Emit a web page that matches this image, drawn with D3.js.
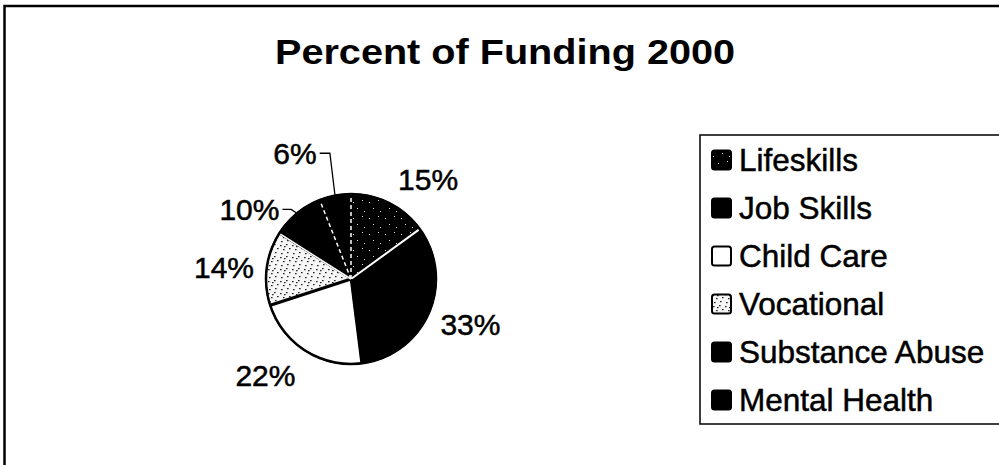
<!DOCTYPE html>
<html>
<head>
<meta charset="utf-8">
<script src="https://cdn.jsdelivr.net/npm/d3@7"></script>
<style>
  html, body { margin: 0; padding: 0; background: #fff; }
  svg { display: block; font-family: "Liberation Sans", Arial, sans-serif; }
</style>
</head>
<body>
<div id="chart"></div>
<script>
// data
var categories = ["Lifeskills", "Job Skills", "Child Care", "Vocational", "Substance Abuse", "Mental Health"];
var shares = [15, 33, 22, 14, 10, 6];
var shareLabels = ["15%", "33%", "22%", "14%", "10%", "6%"];
var chartTitle = "Percent of Funding 2000";

var width = 999, height = 465;
var cx = 351, cy = 279, r = 85;

var svg = d3.select("#chart").append("svg")
  .attr("width", width)
  .attr("height", height);

// fill patterns (scanned look)
var defs = svg.append("defs");
var dark = defs.append("pattern").attr("id", "pat-dark")
  .attr("width", 16).attr("height", 16).attr("patternUnits", "userSpaceOnUse");
dark.append("rect").attr("width", 16).attr("height", 16).attr("fill", "#000");
[[2, 3], [11, 1], [6, 9], [13, 12]].forEach(function (p) {
  dark.append("rect").attr("x", p[0]).attr("y", p[1]).attr("width", 1).attr("height", 1).attr("fill", "#ddd");
});
var light = defs.append("pattern").attr("id", "pat-light")
  .attr("width", 12).attr("height", 12).attr("patternUnits", "userSpaceOnUse");
light.append("rect").attr("width", 12).attr("height", 12).attr("fill", "#f6f6f6");
[[1, 2], [7, 1], [4, 6], [10, 5], [2, 10], [8, 9], [5, 3]].forEach(function (p) {
  light.append("rect").attr("x", p[0]).attr("y", p[1]).attr("width", 1.6).attr("height", 1.2).attr("fill", "#222");
});

var fills = ["url(#pat-dark)", "#000", "#fff", "url(#pat-light)", "#000", "#000"];
// style of the edge at the start of each slice
var edgeStyle = [
  { stroke: "#fff", dash: "4,3", w: 1.5 },
  { stroke: "#fff", dash: null, w: 2 },
  { stroke: "#000", dash: null, w: 2.5 },
  { stroke: "#000", dash: null, w: 3 },
  { stroke: "#fff", dash: null, w: 1.5 },
  { stroke: "#fff", dash: "4,3", w: 1.5 }
];
// best-fit label shifts and leaders, like the office chart
var labelShift = [[19, 14], [2, -6], [-17, -12], [0, 4], [-20, 29], [-32, 0]];
var hasLeader = [false, false, false, false, true, true];

// outer frame
svg.append("rect")
  .attr("x", 4.5).attr("y", 6)
  .attr("width", 1200).attr("height", 1000)
  .attr("fill", "none").attr("stroke", "#000").attr("stroke-width", 2.5);

// title
svg.append("text")
  .attr("x", 505).attr("y", 64)
  .attr("text-anchor", "middle")
  .attr("font-size", 35).attr("font-weight", "bold")
  .attr("textLength", 460).attr("lengthAdjust", "spacingAndGlyphs")
  .text(chartTitle);

var pie = d3.pie().sort(null).value(function (d) { return d; });
var arcs = pie(shares);
var arc = d3.arc().innerRadius(0).outerRadius(r);
var labelArc = d3.arc().innerRadius(128).outerRadius(128);
var edgeArc = d3.arc().innerRadius(r + 1).outerRadius(r + 1);

var g = svg.append("g").attr("transform", "translate(" + cx + "," + cy + ")");

g.selectAll("path.slice").data(arcs).enter().append("path")
  .attr("class", "slice")
  .attr("d", arc)
  .attr("fill", function (d, i) { return fills[i]; })
  .attr("stroke", "#000").attr("stroke-width", 1.5);

g.selectAll("line.edge").data(arcs).enter().append("line")
  .attr("class", "edge")
  .attr("x1", 0).attr("y1", 0)
  .attr("x2", function (d) { return Math.sin(d.startAngle) * (r - 1); })
  .attr("y2", function (d) { return -Math.cos(d.startAngle) * (r - 1); })
  .attr("stroke", function (d, i) { return edgeStyle[i].stroke; })
  .attr("stroke-width", function (d, i) { return edgeStyle[i].w; })
  .attr("stroke-dasharray", function (d, i) { return edgeStyle[i].dash; });

g.append("circle").attr("r", r)
  .attr("fill", "none").attr("stroke", "#000").attr("stroke-width", 2.5);

// percent labels
var labelFont = 30;
var labels = g.selectAll("text.pct").data(arcs).enter().append("text")
  .attr("class", "pct")
  .attr("x", function (d, i) { return labelArc.centroid(d)[0] + labelShift[i][0]; })
  .attr("y", function (d, i) { return labelArc.centroid(d)[1] + labelShift[i][1]; })
  .attr("dy", "0.36em")
  .attr("text-anchor", "middle")
  .attr("font-size", labelFont)
  .attr("stroke", "#000").attr("stroke-width", 0.5)
  .text(function (d, i) { return shareLabels[i]; });

// leader lines
labels.each(function (d, i) {
  if (!hasLeader[i]) return;
  var bb = this.getBBox();
  var ly = labelArc.centroid(d)[1] + labelShift[i][1];
  var e = edgeArc.centroid(d);
  var x0 = bb.x + bb.width + 3;
  g.append("path")
    .attr("d", d3.line()([[x0, ly], [e[0] - 5, ly], [e[0], e[1]]]))
    .attr("fill", "none").attr("stroke", "#000").attr("stroke-width", 1.3);
});

// legend
var legX = 700, legTop = 135, legBottom = 424;
svg.append("rect")
  .attr("x", legX).attr("y", legTop)
  .attr("width", 400).attr("height", legBottom - legTop)
  .attr("fill", "#fff").attr("stroke", "#000").attr("stroke-width", 1.5);

var legY = d3.scalePoint().domain(categories).range([160, 400]);
var leg = svg.selectAll("g.leg").data(categories).enter().append("g")
  .attr("class", "leg")
  .attr("transform", function (d) { return "translate(" + legX + "," + legY(d) + ")"; });
leg.append("rect")
  .attr("x", 12).attr("y", -9.5).attr("width", 19).attr("height", 19).attr("rx", 2.5)
  .attr("fill", function (d, i) { return fills[i]; })
  .attr("stroke", "#000").attr("stroke-width", 2);
leg.append("text")
  .attr("x", 39).attr("dy", "0.36em")
  .attr("font-size", 31.5)
  .attr("stroke", "#000").attr("stroke-width", 0.5)
  .text(function (d) { return d; });
</script>
</body>
</html>
